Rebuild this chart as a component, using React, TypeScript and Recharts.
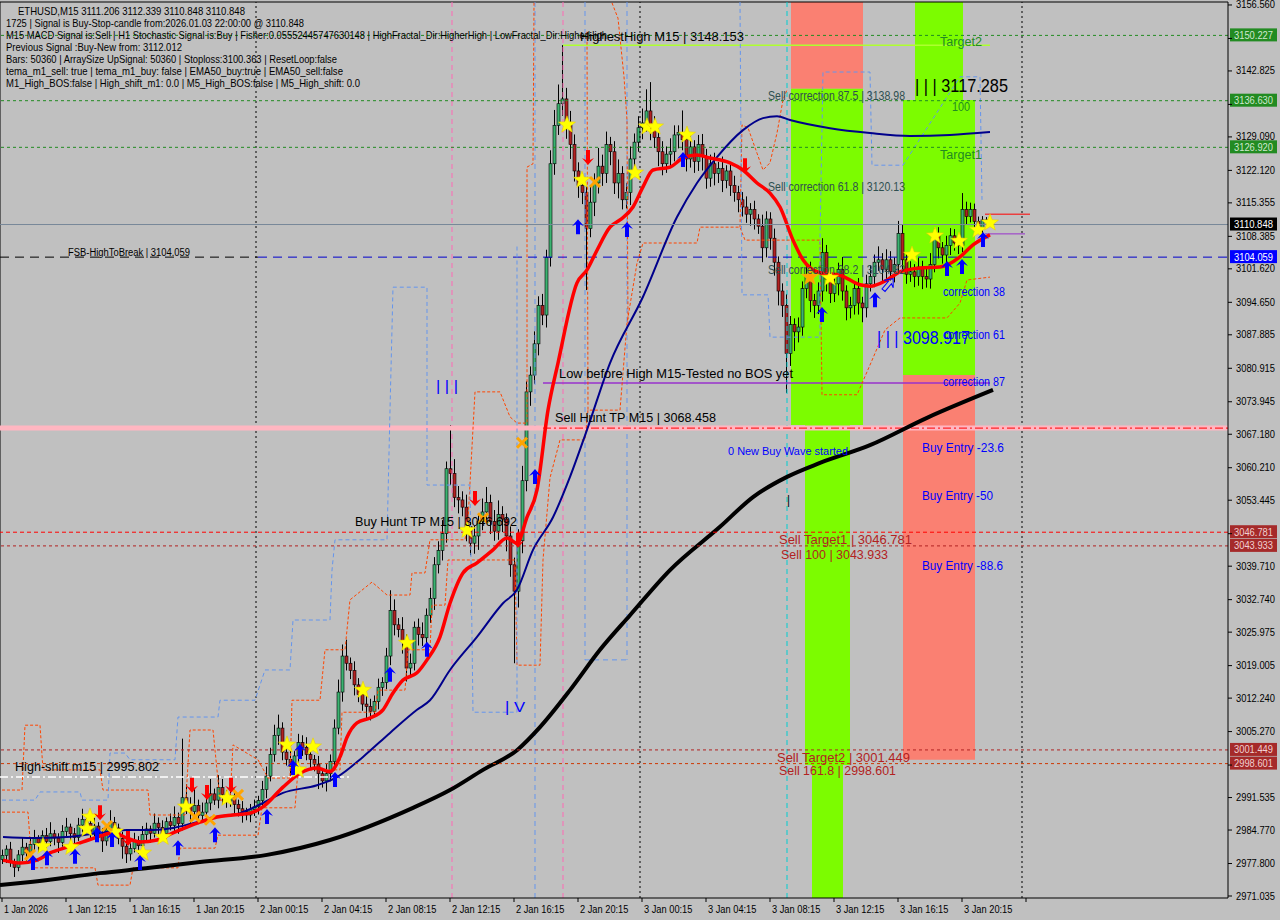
import React from 'react'
import {
  ComposedChart, Bar, Line, Scatter, XAxis, YAxis,
  ReferenceLine, ReferenceArea, ReferenceDot,
} from 'recharts'

const FONT = '"Liberation Sans", Arial, sans-serif'
const BG = '#C0C0C0'

// visible window (bar index / price)
const X_MIN = -0.5
const X_MAX = 306.5
const Y_MIN = 2970.62
const Y_MAX = 3157.18

const timeTicks = [0, 16, 32, 48, 64, 80, 96, 112, 128, 144, 160, 176, 192, 208, 224, 240, 256]
const timeLabels = [
  '1 Jan 2026', '1 Jan 12:15', '1 Jan 16:15', '1 Jan 20:15', '2 Jan 00:15', '2 Jan 04:15',
  '2 Jan 08:15', '2 Jan 12:15', '2 Jan 16:15', '2 Jan 20:15', '3 Jan 00:15', '3 Jan 04:15',
  '3 Jan 08:15', '3 Jan 12:15', '3 Jan 16:15', '3 Jan 20:15', '',
]
const priceTicks = [
  3156.56, 3149.59, 3142.825, 3135.855, 3129.09, 3122.12, 3115.355, 3108.385, 3101.62, 3094.65,
  3087.885, 3080.915, 3073.945, 3067.18, 3060.21, 3053.445, 3046.475, 3039.71, 3032.74, 3025.975,
  3019.005, 3012.24, 3005.27, 2998.3, 2991.535, 2984.77, 2977.8, 2971.035,
]

// ETHUSD M15 candles (open = previous close)
const firstOpen = 2978.6
const closes = [
  2979.5, 2980.8, 2978.2, 2977.0, 2979.6, 2981.2, 2980.0, 2981.8, 2983.0, 2982.1, 2983.6, 2982.4, 2984.0, 2983.1, 2982.2, 2984.5,
  2985.4, 2984.0, 2983.2, 2985.8, 2987.0, 2986.1, 2984.3, 2985.6, 2983.9, 2982.5, 2984.8, 2986.3, 2985.2, 2983.0, 2981.4, 2979.8,
  2980.9, 2982.6, 2981.5, 2983.8, 2985.0, 2984.1, 2986.2, 2985.3, 2984.0, 2986.5, 2985.7, 2987.4, 2986.1, 2991.5, 2990.0, 2988.6,
  2989.9, 2987.8, 2988.5, 2990.4, 2992.3, 2991.0, 2993.6, 2992.2, 2990.8, 2991.9, 2990.1, 2989.2, 2988.6, 2987.9, 2989.0, 2989.6,
  2990.9, 2993.2, 2996.0, 3000.5, 3004.5, 3006.0, 3001.0, 2999.5, 2998.0, 3000.2, 3003.0, 3002.0, 3000.5, 2999.5, 2998.5, 2996.5,
  2995.0, 2996.5, 2999.0, 3006.0, 3013.5, 3021.0, 3019.5, 3018.0, 3015.0, 3013.0, 3011.0, 3010.5, 3009.5, 3011.5, 3014.5, 3015.5,
  3021.0, 3030.5, 3027.5, 3026.5, 3024.0, 3018.5, 3019.5, 3027.0, 3025.5, 3024.8, 3029.5, 3033.0, 3040.0, 3043.0, 3046.5, 3060.0,
  3059.0, 3054.0, 3053.5, 3052.0, 3048.0, 3044.5, 3046.0, 3049.0, 3051.0, 3053.0, 3049.0, 3047.0, 3050.5, 3049.5, 3046.0, 3040.0,
  3034.5, 3045.0, 3057.5, 3076.0, 3079.5, 3086.0, 3094.0, 3092.0, 3104.0, 3123.5, 3131.5, 3136.0, 3137.0, 3131.5, 3127.5, 3122.0,
  3119.0, 3117.5, 3110.0, 3115.5, 3119.5, 3123.0, 3121.5, 3127.5, 3126.0, 3119.5, 3121.5, 3116.0, 3117.5, 3124.5, 3128.0, 3131.0,
  3132.0, 3134.5, 3131.0, 3129.0, 3126.0, 3123.5, 3125.5, 3126.0, 3129.5, 3130.0, 3128.5, 3124.5, 3127.0, 3124.0, 3127.5, 3125.0,
  3120.5, 3123.5, 3121.5, 3122.5, 3120.0, 3122.0, 3119.0, 3117.5, 3116.0, 3114.5, 3113.0, 3114.0, 3112.0, 3110.5, 3106.0, 3112.0,
  3108.0, 3103.0, 3097.0, 3094.0, 3084.0, 3090.0, 3088.5, 3089.5, 3097.5, 3100.5, 3095.0, 3094.0, 3097.0, 3105.0, 3099.5, 3096.5,
  3098.5, 3101.5, 3097.0, 3093.5, 3094.0, 3097.5, 3094.5, 3093.5, 3098.5, 3100.0, 3103.0, 3103.5, 3101.5, 3103.5, 3101.0, 3102.5,
  3109.0, 3103.5, 3100.5, 3101.0, 3100.0, 3102.0, 3100.0, 3099.5, 3102.5, 3108.5, 3106.0, 3104.5, 3106.5, 3108.5, 3107.0, 3106.5,
  3114.0, 3112.5, 3114.0, 3111.5, 3110.0, 3111.8, 3111.206, 3110.848,
]
const wickUp = [
  1.2, 0.8, 1.5, 0.6, 1.0, 2.1, 0.9, 1.4, 1.8, 0.7, 1.1, 1.6, 2.4, 0.8, 1.0, 1.3,
  1.9, 0.7, 1.2, 1.5, 2.2, 0.9, 1.1, 1.7, 0.8, 1.3, 1.0, 2.6, 1.2, 0.9, 1.4, 0.8,
  1.1, 1.6, 0.9, 1.8, 1.3, 0.7, 2.0, 1.2, 1.5, 0.9, 1.7, 2.3, 1.0, 12.3, 2.8, 1.6,
  3.5, 1.2, 2.0, 1.4, 3.1, 1.1, 2.6, 1.8, 0.9, 2.2, 1.3, 1.0, 1.6, 0.8, 1.2, 1.5,
  1.0, 1.8, 2.0, 1.4, 2.2, 2.8, 1.2, 1.6, 2.4, 1.0, 1.8, 1.5, 2.1, 1.3, 0.9, 1.7,
  1.2, 2.0, 1.5, 1.8, 2.6, 2.4, 3.4, 1.2, 1.9, 1.4, 1.0, 2.2, 1.6, 1.3, 1.8, 1.1,
  1.7, 4.2, 2.3, 1.4, 2.6, 1.5, 2.0, 1.2, 1.8, 2.5, 1.4, 2.2, 1.6, 1.9, 2.8, 1.5,
  9.1, 3.0, 2.4, 1.8, 2.6, 1.5, 2.1, 1.3, 2.8, 3.2, 1.6, 2.4, 2.9, 1.7, 1.2, 2.0,
  1.5, 2.4, 3.1, 2.2, 1.8, 2.6, 1.9, 2.4, 1.6, 2.8, 3.2, 4.0, 11.2, 2.3, 3.0, 2.1,
  1.8, 2.6, 1.4, 3.2, 2.0, 3.8, 2.4, 2.7, 1.6, 2.2, 2.9, 1.5, 2.0, 2.6, 1.8, 2.4,
  3.0, 4.5, 6.0, 2.4, 1.8, 2.2, 1.6, 2.8, 2.0, 1.5, 4.6, 1.8, 2.6, 1.4, 2.0, 2.2,
  1.6, 1.9, 2.3, 1.4, 2.5, 1.2, 1.8, 2.0, 1.4, 1.6, 2.2, 1.3, 1.8, 1.0, 2.4, 1.6,
  1.4, 2.0, 1.2, 1.6, 2.4, 1.8, 1.3, 2.0, 1.5, 2.2, 2.6, 1.4, 1.8, 3.0, 1.6, 1.2,
  2.0, 1.4, 2.6, 1.2, 1.8, 1.5, 2.2, 1.3, 1.9, 2.4, 1.6, 2.8, 1.4, 2.2, 1.8, 1.5,
  2.6, 1.8, 1.4, 2.2, 1.6, 1.9, 1.3, 2.0, 2.4, 1.5, 1.8, 1.2, 2.0, 1.6, 1.4, 1.8,
  3.4, 1.6, 1.4, 1.2, 1.0, 0.8, 0.6, 1.133,
]
const wickDown = [
  0.9, 1.6, 1.1, 2.0, 0.8, 1.3, 1.7, 0.6, 1.2, 1.9, 0.8, 1.4, 1.0, 1.5, 2.2, 0.9,
  1.1, 1.8, 1.3, 0.7, 1.5, 2.0, 1.2, 0.9, 1.6, 2.3, 1.0, 1.4, 1.8, 1.2, 2.6, 1.9,
  1.4, 0.8, 1.7, 1.1, 1.5, 2.0, 0.9, 1.6, 1.2, 1.8, 1.0, 1.3, 2.1, 1.4, 1.9, 2.4,
  1.1, 1.8, 1.3, 2.0, 1.5, 1.0, 1.7, 2.2, 1.4, 1.2, 1.9, 1.6, 2.3, 1.1, 1.5, 1.3,
  1.6, 1.2, 1.8, 1.1, 1.5, 2.0, 1.7, 1.3, 2.1, 1.6, 1.4, 1.8, 1.2, 2.0, 1.5, 3.2,
  1.4, 2.2, 1.6, 1.8, 1.3, 2.0, 1.5, 1.8, 2.2, 1.6, 1.4, 2.4, 1.9, 1.2, 1.6, 1.8,
  1.4, 1.9, 2.2, 1.6, 2.5, 2.8, 1.8, 1.5, 2.3, 1.7, 2.0, 1.6, 2.4, 1.8, 2.1, 1.9,
  2.4, 2.0, 2.8, 1.9, 3.1, 2.5, 2.2, 2.9, 1.8, 2.4, 2.6, 2.0, 1.8, 2.7, 3.2, 2.5,
  15.0, 3.4, 2.6, 2.2, 2.9, 1.8, 2.4, 2.1, 2.6, 1.9, 2.3, 2.0, 2.5, 2.8, 3.0, 2.2,
  2.6, 2.4, 12.8, 1.8, 2.9, 2.2, 2.6, 2.0, 2.8, 2.3, 3.2, 2.0, 1.8, 2.6, 2.2, 2.0,
  2.4, 1.8, 2.6, 2.2, 3.0, 2.4, 1.9, 2.5, 2.0, 2.8, 2.2, 2.6, 1.8, 2.4, 2.0, 2.9,
  2.2, 1.8, 2.5, 2.0, 2.4, 1.6, 2.2, 1.9, 2.6, 2.0, 1.8, 2.4, 2.2, 1.6, 3.0, 2.0,
  2.4, 2.8, 3.0, 2.4, 8.2, 2.6, 4.0, 2.2, 1.8, 2.0, 2.4, 2.6, 1.8, 2.2, 2.6, 2.0,
  1.8, 2.4, 2.0, 2.6, 2.2, 1.9, 2.4, 3.0, 2.0, 1.6, 2.2, 1.8, 2.4, 2.0, 1.8, 2.2,
  1.8, 2.4, 2.0, 1.6, 2.2, 1.9, 2.6, 1.8, 2.0, 1.6, 2.2, 1.8, 1.5, 2.0, 1.6, 1.8,
  1.4, 1.6, 1.2, 1.4, 1.0, 1.2, 0.8, 0,
]

// moving averages [bar, price]
const emaFast: [number, number][] = [
  [0.25, 2978.5], [4.5, 2977.9], [8.75, 2978.5], [12, 2980.0], [16.25, 2981.2], [20.25, 2982.3], [24.5, 2983.5],
  [27.75, 2984.2], [31.25, 2983.1], [34.5, 2982.3], [38.75, 2982.7], [42.75, 2984.2], [46.25, 2985.4], [49.5, 2986.4],
  [53.75, 2987.5], [57.75, 2987.9], [62, 2988.3], [65.25, 2989.6], [70.25, 2993.7], [74.5, 2996.6], [78.75, 2997.7],
  [82, 2996.9], [84.5, 3000.0], [86.25, 3004.1], [88.75, 3007.1], [92, 3008.1], [95.25, 3009.8], [97.75, 3013.3],
  [100.25, 3016.0], [103.75, 3017.5], [106.25, 3020.2], [109.5, 3025.0], [112, 3032.0], [115.25, 3038.3],
  [118.75, 3040.4], [122.75, 3043.1], [126.25, 3045.6], [128.75, 3044.5], [131.25, 3049.9], [133.75, 3055.6],
  [136.5, 3072.2], [139, 3082.0], [143.75, 3098.7], [146.25, 3101.4], [148.75, 3105.5], [152, 3110.3], [154.5, 3111.8],
  [157.75, 3114.5], [160.25, 3118.7], [162.75, 3122.2], [167, 3122.8], [170.25, 3124.7], [173.75, 3125.3], [177, 3124.7],
  [182, 3123.7], [185.25, 3122.2], [188.75, 3119.5], [192, 3117.4], [194.5, 3114.5], [197.75, 3107.6], [200.25, 3103.5],
  [204.5, 3100.8], [209.5, 3100.3], [214.5, 3098.3], [217, 3098.0], [221.25, 3099.3], [224.5, 3101.0], [229.5, 3101.8],
  [234.5, 3102.0], [239.5, 3104.1], [242.75, 3106.6], [247, 3108.7],
]
const ema50: [number, number][] = [
  [0.25, 2983.3], [7.75, 2983.1], [16.25, 2983.3], [24.5, 2984.2], [31.25, 2984.8], [37.75, 2984.8], [42.75, 2985.2],
  [47.75, 2986.2], [53.75, 2987.5], [59.5, 2988.3], [65.25, 2990.4], [70.25, 2992.5], [78.75, 2994.1], [83.75, 2995.8],
  [90.25, 3000.0], [97, 3005.0], [103.75, 3009.8], [107, 3011.8], [112, 3018.1], [118.75, 3025.0], [125.25, 3032.0],
  [128.75, 3034.8], [132.75, 3043.1], [137.75, 3049.9], [142, 3058.3], [146.25, 3068.1], [152, 3082.0], [160.25, 3095.8],
  [168.75, 3112.4], [173.75, 3119.5], [178.75, 3124.9], [185.25, 3130.5], [190.25, 3133.0], [193.75, 3133.4], [197, 3132.6],
  [207, 3130.9], [217, 3129.9], [227, 3129.3], [237, 3129.5], [247, 3130.1],
]
const ema200: [number, number][] = [
  [-0.5, 2973.3], [7.75, 2974.0], [24.5, 2975.8], [37, 2976.9], [49.5, 2978.1], [66.25, 2979.6], [82, 2982.7],
  [102.75, 2989.4], [112, 2993.1], [120.25, 2997.3], [128.75, 3001.4], [134.5, 3006.2], [142, 3013.9], [149.5, 3022.3],
  [157, 3029.5], [167, 3038.9], [179.5, 3047.9], [187.75, 3054.1], [196.25, 3058.3], [204.5, 3061.2], [217, 3064.9],
  [231.25, 3070.6], [247.75, 3076.4],
]

// stepped channel lines
const chanLowOrange: [number, number][] = [
  [0, 2988.5], [6.5, 2988.5], [7.5, 2976.9], [23.25, 2976.9], [24, 2973.3], [32, 2973.3], [32.75, 2976.9], [44, 2976.9],
  [44.5, 2981.0], [53.25, 2981.0], [54, 2983.7], [64, 2983.7], [65, 2989.4], [73.25, 2989.4], [74, 2997.3], [84.5, 2997.3],
  [85, 3009.3], [93.25, 3009.3], [94, 3013.9], [100.75, 3013.9], [101.5, 3022.3], [107, 3022.3], [107.5, 3031.6],
  [110.75, 3031.6], [111.5, 3041.0], [128.25, 3041.0], [128.75, 3019.1], [134.5, 3019.1], [135.25, 3041.0], [137, 3058.1],
  [139.5, 3066.0], [145.75, 3066.0], [146.5, 3072.2], [154.5, 3072.2], [156.25, 3090.3], [158.75, 3102.8], [160.25, 3107.0],
  [173.75, 3107.0], [174.5, 3110.3], [184.5, 3110.3], [185.75, 3107.6], [204.5, 3107.6], [205, 3075.4], [213.75, 3075.4],
  [217, 3081.6], [220.75, 3088.9], [224.5, 3091.4], [236.25, 3091.4], [239.5, 3094.5], [241.25, 3099.3], [247, 3099.9],
]
const chanHighOrangeA: [number, number][] = [
  [0, 2993.1], [5, 2993.1], [5.75, 3006.6], [9.5, 3006.6], [10.25, 2997.3], [24.5, 2997.3], [25.25, 2993.1], [36.5, 2993.1],
  [37, 2987.9], [45.75, 2987.9], [47, 3005.6], [52.75, 3005.6], [54.5, 2991.0], [57, 2991.0], [57.75, 3002.5], [64, 2999.4],
  [66.5, 2995.6], [72, 2995.6], [72.5, 3011.8], [79.5, 3011.8], [80.75, 3022.3], [85.75, 3022.3], [87, 3032.7],
  [92.5, 3036.4], [96.25, 3033.7], [102, 3033.7], [102.5, 3038.3], [105.75, 3038.3], [107, 3045.2], [115.75, 3045.2],
  [116.5, 3049.3], [118.25, 3076.0], [124.5, 3076.0], [127, 3070.8], [128.75, 3069.5], [131.25, 3069.5], [131.25, 3122.8],
  [132.75, 3123.5], [133, 3157.0],
]
const chanHighOrangeB: [number, number][] = [[146.25, 3151.0], [146.5, 3072.2]]
const chanHighOrangeC: [number, number][] = [
  [152.5, 3157.0], [154, 3153.8], [155.5, 3141.6], [156.25, 3132.6], [156.5, 3090.3],
]
const chanHighOrangeD: [number, number][] = [
  [184.5, 3110.3], [185, 3131.6], [186.5, 3131.0], [188.75, 3125.7], [190.25, 3122.2], [192, 3123.7], [193.75, 3129.9],
  [195.25, 3136.8], [196.25, 3138.9],
]
const chanBlueLeft: [number, number][] = [
  [0, 2991.0], [8.25, 2991.0], [9.5, 2992.7], [19.5, 2992.7], [20, 2991.0], [26.5, 2991.0], [27, 3000.8], [30.75, 3000.8],
  [32, 2999.4], [43.25, 2999.4], [44, 3008.3], [54, 3008.3], [54.5, 3011.8], [63.25, 3011.8], [65.75, 3018.1], [72, 3018.1],
  [72.75, 3028.5], [82, 3028.5], [82.5, 3038.9], [83.25, 3045.2], [96.25, 3045.2], [97, 3072.2], [97.75, 3097.8],
  [106.25, 3097.8], [106.25, 3056.6], [117, 3056.6], [117.75, 3009.3], [128.75, 3009.3], [128.75, 3106.6],
]
const chanBlueRight: [number, number][] = [
  [184.5, 3157.2], [185, 3096.2], [191.5, 3096.2], [192, 3087.4], [204.5, 3087.4], [204.5, 3107.6], [205.25, 3142.6],
  [217, 3142.6], [217.5, 3123.2], [225.25, 3123.2], [239.5, 3141.6], [244.5, 3141.6], [245, 3116.0],
]

// signal markers [bar, price]
const stars: [number, number][] = [
  [10.25, 2981.4], [17.25, 2981.2], [22, 2987.5], [21.25, 2985.0], [28.25, 2984.4], [35.25, 2980.0], [40.25, 2983.3],
  [46, 2989.6], [56.25, 2991.4], [71.25, 3002.5], [77.75, 3002.1], [74, 2997.3], [90.25, 3013.9], [101.25, 3023.7],
  [116.25, 3047.2], [141.25, 3131.6], [145, 3120.1], [158.25, 3121.6], [161.25, 3131.2], [163.25, 3131.2], [171.25, 3129.5],
  [207, 3099.7], [227.5, 3104.5], [233.25, 3108.5], [239.25, 3107.4], [244, 3109.7], [247, 3111.2],
]
const orangeStars: [number, number][] = [[202, 3099.9]]
const buyArrows: [number, number][] = [
  [7.75, 2977.9], [11.25, 2978.9], [18.25, 2979.2], [23.75, 2983.7], [27.5, 2982.7], [34.5, 2977.9], [44, 2981.0],
  [53.25, 2983.7], [66.25, 2987.5], [72.75, 2997.7], [74.5, 3001.0], [83.25, 2995.2], [97, 3017.1], [106.25, 3022.3],
  [133.25, 3058.3], [144, 3110.3], [156.25, 3109.7], [170.25, 3124.3], [205, 3092.0], [218.25, 3095.1], [236.25, 3101.6],
  [240, 3102.0], [245.25, 3107.6],
]
const hollowArrows: [number, number][] = [[221.5, 3098.3]]
const sellArrows: [number, number][] = [
  [24.5, 2988.5], [31.5, 2983.1], [47.5, 2994.2], [51.25, 2992.7], [57.25, 2994.2], [118.25, 3053.9], [129, 3045.2],
  [146.5, 3124.9], [185.75, 3123.2],
]
const crosses: [number, number][] = [
  [7, 2979.6], [26.25, 2985.6], [48.25, 2987.5], [52, 2986.9], [59, 2992.1], [120.25, 3049.7], [130, 3065.4], [148.25, 3119.7],
]

// levels
const greenLevels = [3150.227, 3136.63, 3126.92]
const highestHigh = 3148.153
const lastPrice = 3110.848
const fsbHigh = 3104.059
const lowBeforeHigh = 3077.85
const sellHuntTP = 3068.458
const sellTarget1 = 3046.781
const sell100 = 3043.933
const sellTarget2 = 3001.449
const sell1618 = 2998.601
const highShift = 2995.802
const stopMarks = [3113.0, 3108.9]
const daySeparators = [63.5, 159.5, 255]
const badgeLevels = [...greenLevels, lastPrice, fsbHigh, sellTarget1, sell100, sellTarget2, sell1618]

// zones [x1, x2, y1, y2]
const salmonZones: [number, number, number, number][] = [
  [197.25, 215.25, 3139.1, Y_MAX],
  [225.25, 243.25, 2999.4, 3079.5],
]
const greenZones: [number, number, number, number][] = [
  [197.25, 215.25, 3069.1, 3139.1],
  [200.75, 212, 2998.3, 3069.1],
  [202.5, 210.25, Y_MIN, 2998.3],
  [228.25, 240.25, 3136.8, Y_MAX],
  [225.25, 243.25, 3079.5, 3136.8],
]

// chart notes
const notes = [
  { n: 144.5, p: 3150.1, text: 'HighestHigh   M15 | 3148.153', kind: 'big', w: 164 },
  { n: 191.5, p: 3137.6, text: 'Sell correction 87.5 | 3138.98', kind: 'corr', w: 137 },
  { n: 191.5, p: 3118.7, text: 'Sell correction 61.8 | 3120.13', kind: 'corr', w: 137 },
  { n: 191.5, p: 3101.4, text: 'Sell correction 38.2 | 3104.82', kind: 'corr', w: 137 },
  { n: 234.5, p: 3148.9, text: 'Target2', kind: 'tgt', w: 42 },
  { n: 234.5, p: 3125.3, text: 'Target1', kind: 'tgt', w: 42 },
  { n: 237.5, p: 3135.3, text: '100', kind: 'tgt', w: 18 },
  { n: 228.25, p: 3139.7, text: '| | | 3117.285', kind: 'huge', w: 93 },
  { n: 218.75, p: 3087.2, text: '| | | 3098.917', kind: 'hugeBlue', w: 93 },
  { n: 235.25, p: 3096.8, text: 'correction 38', kind: 'blue', w: 62 },
  { n: 235.25, p: 3087.8, text: 'correction 61', kind: 'blue', w: 62 },
  { n: 235.25, p: 3078.1, text: 'correction 87', kind: 'blue', w: 62 },
  { n: 230, p: 3064.3, text: 'Buy Entry -23.6', kind: 'blue', w: 82 },
  { n: 230, p: 3054.3, text: 'Buy Entry -50', kind: 'blue', w: 71 },
  { n: 230, p: 3039.7, text: 'Buy Entry -88.6', kind: 'blue', w: 81 },
  { n: 181.5, p: 3063.7, text: '0 New Buy Wave started', kind: 'blueSm', w: 120 },
  { n: 139.25, p: 3079.9, text: 'Low before High  M15-Tested no BOS yet', kind: 'big', w: 234 },
  { n: 138.25, p: 3070.6, text: 'Sell Hunt TP M15 | 3068.458', kind: 'big', w: 161 },
  { n: 88.25, p: 3048.9, text: 'Buy Hunt TP M15 | 3046.692', kind: 'mid', w: 162 },
  { n: 194.25, p: 3045.2, text: 'Sell Target1 | 3046.781', kind: 'sell', w: 133 },
  { n: 194.75, p: 3042.2, text: 'Sell 100 | 3043.933', kind: 'sell', w: 107 },
  { n: 193.75, p: 2999.9, text: 'Sell Target2 | 3001.449', kind: 'sell', w: 133 },
  { n: 194.25, p: 2997.1, text: 'Sell 161.8 | 2998.601', kind: 'sell', w: 117 },
  { n: 3.25, p: 2997.9, text: 'High-shift m15 | 2995.802', kind: 'big', w: 144 },
  { n: 16.5, p: 3105.1, text: 'FSB-HighToBreak | 3104.059', kind: 'small', w: 122 },
  { n: 108.5, p: 3077.2, text: '| | |', kind: 'tick', w: 22 },
  { n: 125.75, p: 3010.4, text: '| V', kind: 'tick', w: 20 },
  { n: 196.25, p: 3053.5, text: '|', kind: 'mid', w: 3 },
]
const noteStyle: Record<string, { fill: string; size: number }> = {
  big: { fill: '#000', size: 13 },
  mid: { fill: '#000', size: 12 },
  small: { fill: '#000', size: 10 },
  corr: { fill: '#2F4F4F', size: 12 },
  tgt: { fill: '#228B22', size: 12 },
  huge: { fill: '#000', size: 18 },
  hugeBlue: { fill: '#0000FF', size: 18 },
  blue: { fill: '#0000FF', size: 12 },
  blueSm: { fill: '#0000FF', size: 11 },
  sell: { fill: '#B22222', size: 13 },
  tick: { fill: '#0000FF', size: 14 },
}

const infoLines = [
  'ETHUSD,M15  3111.206 3112.339 3110.848 3110.848',
  '1725 | Signal is Buy-Stop-candle from:2026.01.03 22:00:00 @ 3110.848',
  'M15 MACD Signal is:Sell | H1 Stochastic Signal is:Buy | Fisher:0.05552445747630148 | HighFractal_Dir:HigherHigh | LowFractal_Dir:HigherHigh',
  'Previous Signal :Buy-New from: 3112.012',
  'Bars: 50360 | ArraySize UpSignal: 50360 | Stoploss:3100.363 | ResetLoop:false',
  'tema_m1_sell: true | tema_m1_buy: false | EMA50_buy:true | EMA50_sell:false',
  'M1_High_BOS:false | High_shift_m1: 0.0 | M5_High_BOS:false | M5_High_shift: 0.0',
]
const infoWidths = [227, 298, 601, 176, 331, 337, 354]

const candles = closes.map((c, i) => {
  const o = i === 0 ? firstOpen : closes[i - 1]
  return { n: i, o, c, h: Math.max(o, c) + wickUp[i], l: Math.min(o, c) - wickDown[i] }
})
const rows = (pts: [number, number][]) => pts.map(([n, p]) => ({ n, p }))

function Candle(props: any) {
  const { x, y, width, height, payload } = props
  if (!payload) return null
  const { o, h, l, c } = payload
  const span = h - l || 1
  const py = (v: number) => y + ((h - v) / span) * height
  const base = Math.round(x + width / 2 - 2)
  const top = py(Math.max(o, c))
  const bot = py(Math.min(o, c))
  return (
    <g>
      <line x1={base + 2.5} x2={base + 2.5} y1={y} y2={y + height} stroke="#000" strokeWidth={1} />
      <rect x={base + 1} y={top} width={3} height={Math.max(bot - top, 1)}
        fill={c >= o ? '#3CB371' : '#B22222'} stroke="#000" strokeWidth={0.6} />
    </g>
  )
}

function Star(props: any) {
  const { cx, cy, fill } = props
  const pts: string[] = []
  for (let k = 0; k < 10; k++) {
    const r = k % 2 === 0 ? 9 : 3.8
    const a = -Math.PI / 2 + (k * Math.PI) / 5
    pts.push(`${cx + r * Math.cos(a)},${cy + r * Math.sin(a)}`)
  }
  return <polygon points={pts.join(' ')} fill={fill} stroke="#E6C800" strokeWidth={0.5} />
}

function UpArrow(props: any) {
  const { cx, cy, fill, hollow } = props
  const d = `M${cx},${cy - 8} L${cx + 6},${cy - 1} L${cx + 2},${cy - 3} L${cx + 2},${cy + 7} L${cx - 2},${cy + 7} L${cx - 2},${cy - 3} L${cx - 6},${cy - 1} Z`
  return hollow
    ? <path d={d} fill="none" stroke={fill} strokeWidth={1} transform={`rotate(40 ${cx} ${cy})`} />
    : <path d={d} fill={fill} />
}

function DownArrow(props: any) {
  const { cx, cy, fill } = props
  const d = `M${cx},${cy + 8} L${cx + 6},${cy + 1} L${cx + 2},${cy + 3} L${cx + 2},${cy - 7} L${cx - 2},${cy - 7} L${cx - 2},${cy + 3} L${cx - 6},${cy + 1} Z`
  return <path d={d} fill={fill} />
}

function Cross(props: any) {
  const { cx, cy } = props
  return (
    <g stroke="#FFA500" strokeWidth={3}>
      <line x1={cx - 5} y1={cy - 5} x2={cx + 5} y2={cy + 5} />
      <line x1={cx - 5} y1={cy + 5} x2={cx + 5} y2={cy - 5} />
    </g>
  )
}

const badge = (value: number, bg: string, fg: string) => (props: any) => {
  const vb = props.viewBox
  if (!vb) return null
  const x = vb.x + vb.width + 2
  return (
    <g>
      <rect x={x} y={vb.y - 7} width={47} height={13} fill={bg} />
      <text x={x + 4} y={vb.y} dominantBaseline="central" fontSize={10} fill={fg} fontFamily={FONT}
        textLength={39} lengthAdjust="spacingAndGlyphs">{value.toFixed(3)}</text>
    </g>
  )
}

function TimeTick(props: any) {
  const { x, y, payload } = props
  const label = timeLabels[timeTicks.indexOf(payload.value)]
  if (!label) return null
  return (
    <text x={x + 2} y={y + 5} dominantBaseline="central" fontSize={10} fontFamily={FONT} fill="#000"
      textLength={label.length * 4.4} lengthAdjust="spacingAndGlyphs">{label}</text>
  )
}

function PriceTick(props: any) {
  const { x, y, payload } = props
  const v = Number(payload.value)
  // labels hidden behind the price badges
  if (badgeLevels.some((b) => Math.abs(b - v) < 1.5)) return null
  return (
    <text x={x} y={y} dominantBaseline="central" fontSize={10} fontFamily={FONT} fill="#000"
      textLength={39} lengthAdjust="spacingAndGlyphs">{v.toFixed(3)}</text>
  )
}

const dashLine = (pts: [number, number][], color: string, dash: string, key: string) => (
  <Line key={key} data={rows(pts)} dataKey="p" type="linear" stroke={color} strokeWidth={1}
    strokeDasharray={dash} dot={false} isAnimationActive={false} />
)

export default function App() {
  return (
    <div style={{ position: 'relative', width: 1280, height: 920, background: BG }}>
      <style>{'body{margin:0;background:#C0C0C0}'}</style>
      <ComposedChart width={1280} height={920} data={candles} margin={{ top: 2, right: 0, bottom: 0, left: 0 }}>
        <XAxis dataKey="n" type="number" domain={[X_MIN, X_MAX]} allowDataOverflow ticks={timeTicks} interval={0}
          height={22} tickSize={4} tick={TimeTick} axisLine={{ stroke: '#000' }} tickLine={{ stroke: '#000' }} />
        <YAxis type="number" orientation="right" domain={[Y_MIN, Y_MAX]} allowDataOverflow ticks={priceTicks} interval={0}
          width={52} tickSize={4} tickMargin={4} tick={PriceTick} axisLine={{ stroke: '#000' }} tickLine={{ stroke: '#000' }} />

        {salmonZones.map(([x1, x2, y1, y2], i) => (
          <ReferenceArea key={`s${i}`} x1={x1} x2={x2} y1={y1} y2={y2} fill="#FA8072" fillOpacity={1} stroke="none" ifOverflow="visible" />
        ))}
        {greenZones.map(([x1, x2, y1, y2], i) => (
          <ReferenceArea key={`g${i}`} x1={x1} x2={x2} y1={y1} y2={y2} fill="#7CFC00" fillOpacity={1} stroke="none" ifOverflow="visible" />
        ))}

        <ReferenceLine y={Y_MAX} stroke="#000" ifOverflow="visible" />
        <ReferenceLine x={X_MIN} stroke="#000" ifOverflow="visible" />

        {daySeparators.map((d) => (
          <ReferenceLine key={`d${d}`} x={d} stroke="#000" strokeDasharray="2 3" />
        ))}
        <ReferenceLine x={112.5} stroke="#FF69B4" strokeDasharray="5 4" />
        <ReferenceLine x={140.25} stroke="#FF69B4" strokeDasharray="5 4" />
        <ReferenceLine x={133.25} stroke="#6495ED" strokeDasharray="5 4" />
        <ReferenceLine x={196.25} stroke="#00CED1" strokeDasharray="5 4" />
        <ReferenceLine segment={[{ x: 145.75, y: Y_MAX }, { x: 145.75, y: 3020.2 }]} stroke="#6495ED" strokeDasharray="5 4" />
        <ReferenceLine segment={[{ x: 156.25, y: Y_MAX }, { x: 156.25, y: 3020.2 }]} stroke="#6495ED" strokeDasharray="5 4" />
        <ReferenceLine segment={[{ x: 145.75, y: 3020.2 }, { x: 156.25, y: 3020.2 }]} stroke="#6495ED" strokeDasharray="5 4" />

        <ReferenceLine y={sellHuntTP} stroke="#FFB6C1" strokeWidth={5} />
        <ReferenceLine segment={[{ x: 135.25, y: sellHuntTP }, { x: X_MAX, y: sellHuntTP }]} stroke="#FF0000" strokeDasharray="8 3 2 3" />
        <ReferenceLine segment={[{ x: 135.25, y: lowBeforeHigh }, { x: 247, y: lowBeforeHigh }]} stroke="#9932CC" strokeWidth={1.5} />
        <ReferenceLine segment={[{ x: 140.25, y: highestHigh }, { x: 247, y: highestHigh }]} stroke="#ADFF2F" strokeWidth={1.5} />
        <ReferenceLine segment={[{ x: X_MIN, y: highShift }, { x: 87, y: highShift }]} stroke="#FFFFFF" strokeWidth={1.5} strokeDasharray="8 3 2 3" />
        <ReferenceLine segment={[{ x: 245.75, y: stopMarks[0] }, { x: 257, y: stopMarks[0] }]} stroke="#FF0000" />
        <ReferenceLine segment={[{ x: 245.75, y: stopMarks[1] }, { x: 255.75, y: stopMarks[1] }]} stroke="#9932CC" />
        <ReferenceLine segment={[{ x: X_MIN, y: fsbHigh }, { x: 64, y: fsbHigh }]} stroke="#000" strokeDasharray="9 6" />
        <ReferenceLine segment={[{ x: 64, y: fsbHigh }, { x: X_MAX, y: fsbHigh }]} stroke="#0000CD" strokeDasharray="9 6" />

        <Bar dataKey={(d: any) => [d.l, d.h]} barSize={3} shape={Candle} isAnimationActive={false} />

        {dashLine(chanLowOrange, '#FF4500', '3 2', 'ol')}
        {dashLine(chanHighOrangeA, '#FF4500', '3 2', 'oa')}
        {dashLine(chanHighOrangeB, '#FF4500', '3 2', 'ob')}
        {dashLine(chanHighOrangeC, '#FF4500', '3 2', 'oc')}
        {dashLine(chanHighOrangeD, '#FF4500', '3 2', 'od')}
        {dashLine(chanBlueLeft, '#6495ED', '4 3', 'bl')}
        {dashLine(chanBlueRight, '#6495ED', '4 3', 'br')}

        <Line data={rows(ema200)} dataKey="p" type="monotone" stroke="#000" strokeWidth={4} dot={false} isAnimationActive={false} />
        <Line data={rows(ema50)} dataKey="p" type="monotone" stroke="#00008B" strokeWidth={2} dot={false} isAnimationActive={false} />
        <Line data={rows(emaFast)} dataKey="p" type="monotone" stroke="#FF0000" strokeWidth={3.5} dot={false} isAnimationActive={false} />

        {greenLevels.map((v) => (
          <ReferenceLine key={`gl${v}`} y={v} stroke="#228B22" strokeDasharray="3 3" label={badge(v, '#228B22', '#CFE8CF')} />
        ))}
        <ReferenceLine y={lastPrice} stroke="#778899" label={badge(lastPrice, '#000', '#FFF')} />
        <ReferenceLine y={fsbHigh} stroke="none" label={badge(fsbHigh, '#0000FF', '#FFF')} />
        <ReferenceLine y={sellTarget1} stroke="#FF0000" strokeDasharray="4 3" label={badge(sellTarget1, '#A52A2A', '#F0D0D0')} />
        <ReferenceLine y={sell100} stroke="#B22222" strokeDasharray="3 3" label={badge(sell100, '#A52A2A', '#F0D0D0')} />
        <ReferenceLine y={sellTarget2} stroke="#B22222" strokeDasharray="3 3" label={badge(sellTarget2, '#A52A2A', '#F0D0D0')} />
        <ReferenceLine y={sell1618} stroke="#CD3700" strokeDasharray="3 3" label={badge(sell1618, '#A52A2A', '#F0D0D0')} />

        <Scatter data={rows(stars)} dataKey="p" fill="#FFFF00" shape={Star} isAnimationActive={false} />
        <Scatter data={rows(orangeStars)} dataKey="p" fill="#FFA500" shape={Star} isAnimationActive={false} />
        <Scatter data={rows(crosses)} dataKey="p" shape={Cross} isAnimationActive={false} />
        <Scatter data={rows(buyArrows)} dataKey="p" fill="#0000FF" shape={UpArrow} isAnimationActive={false} />
        <Scatter data={rows(hollowArrows)} dataKey="p" fill="#0000FF" shape={(p: any) => <UpArrow {...p} hollow />} isAnimationActive={false} />
        <Scatter data={rows(sellArrows)} dataKey="p" fill="#FF0000" shape={DownArrow} isAnimationActive={false} />

        {notes.map((nt, i) => {
          const st = noteStyle[nt.kind]
          return (
            <ReferenceDot key={`n${i}`} x={nt.n} y={nt.p} r={0} ifOverflow="visible"
              shape={(pr: any) => (
                <text x={pr.cx} y={pr.cy} dominantBaseline="central" fontSize={st.size} fontFamily={FONT} fill={st.fill}
                  textLength={nt.w} lengthAdjust="spacingAndGlyphs">{nt.text}</text>
              )} />
          )
        })}
      </ComposedChart>

      <svg width={700} height={95} style={{ position: 'absolute', left: 0, top: 0, pointerEvents: 'none' }}>
        {infoLines.map((t, i) => (
          <text key={i} x={i === 0 ? 18 : 6} y={11 + i * 12} dominantBaseline="central" fontSize={11} fontFamily={FONT}
            fill="#000" textLength={infoWidths[i]} lengthAdjust="spacingAndGlyphs">{t}</text>
        ))}
      </svg>
    </div>
  )
}
